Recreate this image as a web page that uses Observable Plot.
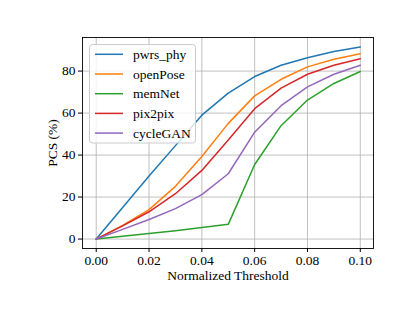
<!DOCTYPE html>
<html>
<head>
<meta charset="utf-8">
<script src="https://cdn.jsdelivr.net/npm/d3@7"></script>
<script src="https://cdn.jsdelivr.net/npm/@observablehq/plot@0.6"></script>
<style>
  html, body { margin: 0; padding: 0; background: #fff; }
  #chart { width: 415px; height: 311px; }
</style>
</head>
<body>
<div id="chart"></div>
<script>
const thresholds = [0, 0.01, 0.02, 0.03, 0.04, 0.05, 0.06, 0.07, 0.08, 0.09, 0.10];
const seriesNames = ["pwrs_phy", "openPose", "memNet", "pix2pix", "cycleGAN"];
const seriesColors = ["#1f77b4", "#ff7f0e", "#2ca02c", "#d62728", "#9467bd"];
const pwrs_phy = [0, 15, 30, 44.5, 59, 69.5, 77.4, 82.8, 86.4, 89.3, 91.5];
const openPose = [0, 6.5, 14, 25.1, 39.3, 55.1, 68.2, 76.1, 82, 85.6, 88.3];
const memNet   = [0, 1.3, 2.6, 4, 5.5, 7, 35.5, 54, 66.2, 74.1, 79.8];
const pix2pix  = [0, 6.3, 13, 21.6, 32.7, 47.2, 62.1, 71.9, 78.5, 82.8, 85.9];
const cycleGAN = [0, 4.6, 9.3, 14.5, 21.2, 31.1, 50.9, 63.5, 72.5, 78.5, 82.8];
const xTicks = [0, 0.02, 0.04, 0.06, 0.08, 0.10];
const yTicks = [0, 20, 40, 60, 80];
const xLabel = "Normalized Threshold";
const yLabel = "PCS (%)";

const allSeries = [pwrs_phy, openPose, memNet, pix2pix, cycleGAN];
const data = [];
seriesNames.forEach((name, i) => {
  thresholds.forEach((t, j) => data.push({series: name, x: t, y: allSeries[i][j]}));
});

const font = "'Liberation Serif', 'Times New Roman', serif";
const fs = 13.5;

const chart = Plot.plot({
  width: 415,
  height: 311,
  marginLeft: 82,
  marginRight: 42,
  marginTop: 37,
  marginBottom: 63,
  style: {fontFamily: font, fontSize: fs + "px", background: "#fff", color: "#000"},
  x: {domain: [-0.0052, 0.105]},
  y: {domain: [-4.5, 96]},
  color: {domain: seriesNames, range: seriesColors},
  marks: [
    Plot.gridX(xTicks, {stroke: "#b0b0b0", strokeOpacity: 1, strokeWidth: 0.8}),
    Plot.gridY(yTicks, {stroke: "#b0b0b0", strokeOpacity: 1, strokeWidth: 0.8}),
    Plot.line(data, {x: "x", y: "y", stroke: "series", z: "series", strokeWidth: 1.5}),
    Plot.frame({stroke: "#000", strokeWidth: 0.9}),
    Plot.axisX(xTicks, {tickSize: 4, tickPadding: 3, tickFormat: d3.format(".2f"),
      label: xLabel, labelAnchor: "center", labelOffset: 31, labelArrow: "none", fontSize: fs}),
    Plot.axisY(yTicks, {tickSize: 4, tickPadding: 3, tickFormat: d3.format("d"),
      label: yLabel, labelAnchor: "center", labelOffset: 35, labelArrow: "none", fontSize: fs})
  ]
});

document.getElementById("chart").appendChild(chart);

// Legend inside the plot (upper left)
const svg = d3.select(chart.tagName.toLowerCase() === "svg" ? chart : chart.querySelector("svg"));
const lg = svg.append("g").attr("font-family", font).attr("font-size", fs).attr("text-anchor", "start");
lg.append("rect").attr("x", 89.5).attr("y", 44.5).attr("width", 106).attr("height", 98.5)
  .attr("rx", 3).attr("fill", "#fff").attr("fill-opacity", 0.8)
  .attr("stroke", "#cccccc").attr("stroke-width", 1);
seriesNames.forEach((name, i) => {
  const yy = 54.3 + i * 19.7;
  lg.append("line").attr("x1", 95).attr("x2", 123).attr("y1", yy).attr("y2", yy)
    .attr("stroke", seriesColors[i]).attr("stroke-width", 1.5);
  lg.append("text").attr("x", 133).attr("y", yy).attr("dy", "0.35em")
    .attr("text-anchor", "start").attr("fill", "#000").text(name);
});
</script>
</body>
</html>
